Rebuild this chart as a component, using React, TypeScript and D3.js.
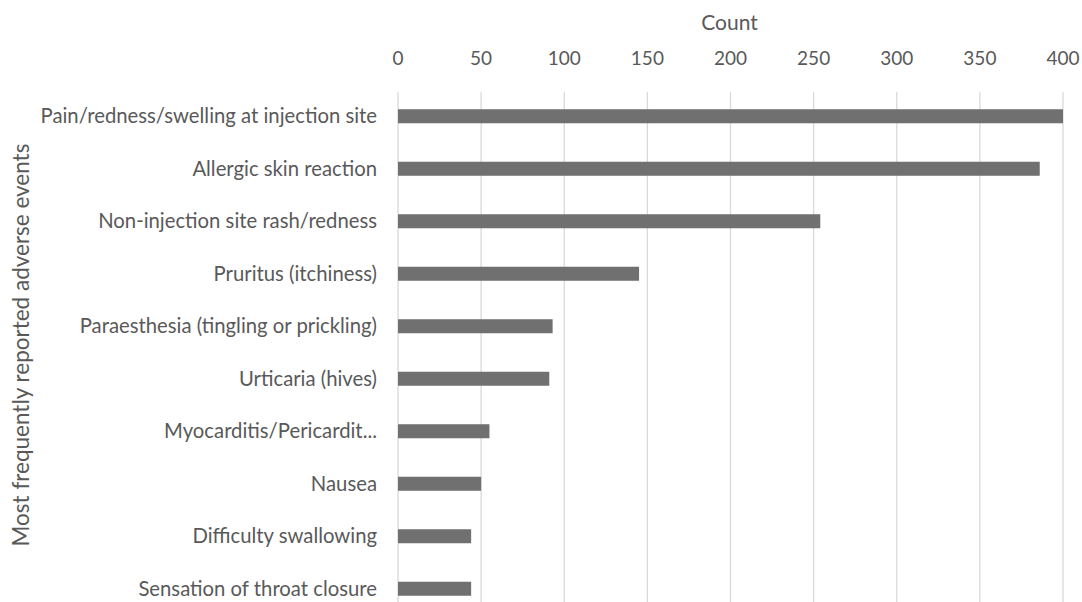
import React from "react";
import * as d3 from "d3";

const categories: string[] = [
  "Pain/redness/swelling at injection site",
  "Allergic skin reaction",
  "Non-injection site rash/redness",
  "Pruritus (itchiness)",
  "Paraesthesia (tingling or prickling)",
  "Urticaria (hives)",
  "Myocarditis/Pericardit...",
  "Nausea",
  "Difficulty swallowing",
  "Sensation of throat closure",
];

const counts: number[] = [400, 386, 254, 145, 93, 91, 55, 50, 44, 44];

const xTicks: number[] = [0, 50, 100, 150, 200, 250, 300, 350, 400];

const xTitle = "Count";
const yTitle = "Most frequently reported adverse events";

const W = 1082;
const H = 602;
const left = 398;
const right = 1063;
const top = 90;
const bottom = 615;

const FONT = "Lato, 'Open Sans', sans-serif";
const TEXT = "#595959";

export default function App() {
  const x = d3.scaleLinear().domain([0, 400]).range([left, right]);
  const y = d3
    .scaleBand<string>()
    .domain(categories)
    .range([top, bottom])
    .paddingInner(0.733)
    .paddingOuter(0.3665);

  return (
    <svg
      width={W}
      height={H}
      style={{ position: "absolute", left: 0, top: 0, background: "#fff" }}
      fontFamily={FONT}
    >
      {/* vertical gridlines */}
      {xTicks.map((t) => (
        <line
          key={"g" + t}
          x1={x(t)}
          x2={x(t)}
          y1={top + 2}
          y2={bottom}
          stroke="#d9d9d9"
          strokeWidth={1.3}
        />
      ))}
      {/* tick labels on top */}
      {xTicks.map((t) => (
        <text
          key={"t" + t}
          x={x(t)}
          y={58}
          dy="0.35em"
          textAnchor="middle"
          fontSize={19}
          fill={TEXT}
        >
          {t}
        </text>
      ))}
      <text
        x={(left + right) / 2 - 1}
        y={23}
        dy="0.35em"
        textAnchor="middle"
        fontSize={21}
        fill={TEXT}
      >
        {xTitle}
      </text>

      {/* bars */}
      {categories.map((c, i) => (
        <rect
          key={"b" + c}
          x={x(0)}
          y={y(c)!}
          width={x(counts[i]) - x(0)}
          height={y.bandwidth()}
          fill="#707070"
        />
      ))}

      {/* category labels */}
      {categories.map((c) => (
        <text
          key={"l" + c}
          x={left - 21}
          y={y(c)! + y.bandwidth() / 2}
          dy="0.35em"
          textAnchor="end"
          fontSize={20.3}
          fill={TEXT}
        >
          {c}
        </text>
      ))}

      {/* y axis title */}
      <text
        transform={`translate(21, 345) rotate(-90)`}
        dy="0.35em"
        textAnchor="middle"
        fontSize={22.5}
        fill={TEXT}
      >
        {yTitle}
      </text>
    </svg>
  );
}
